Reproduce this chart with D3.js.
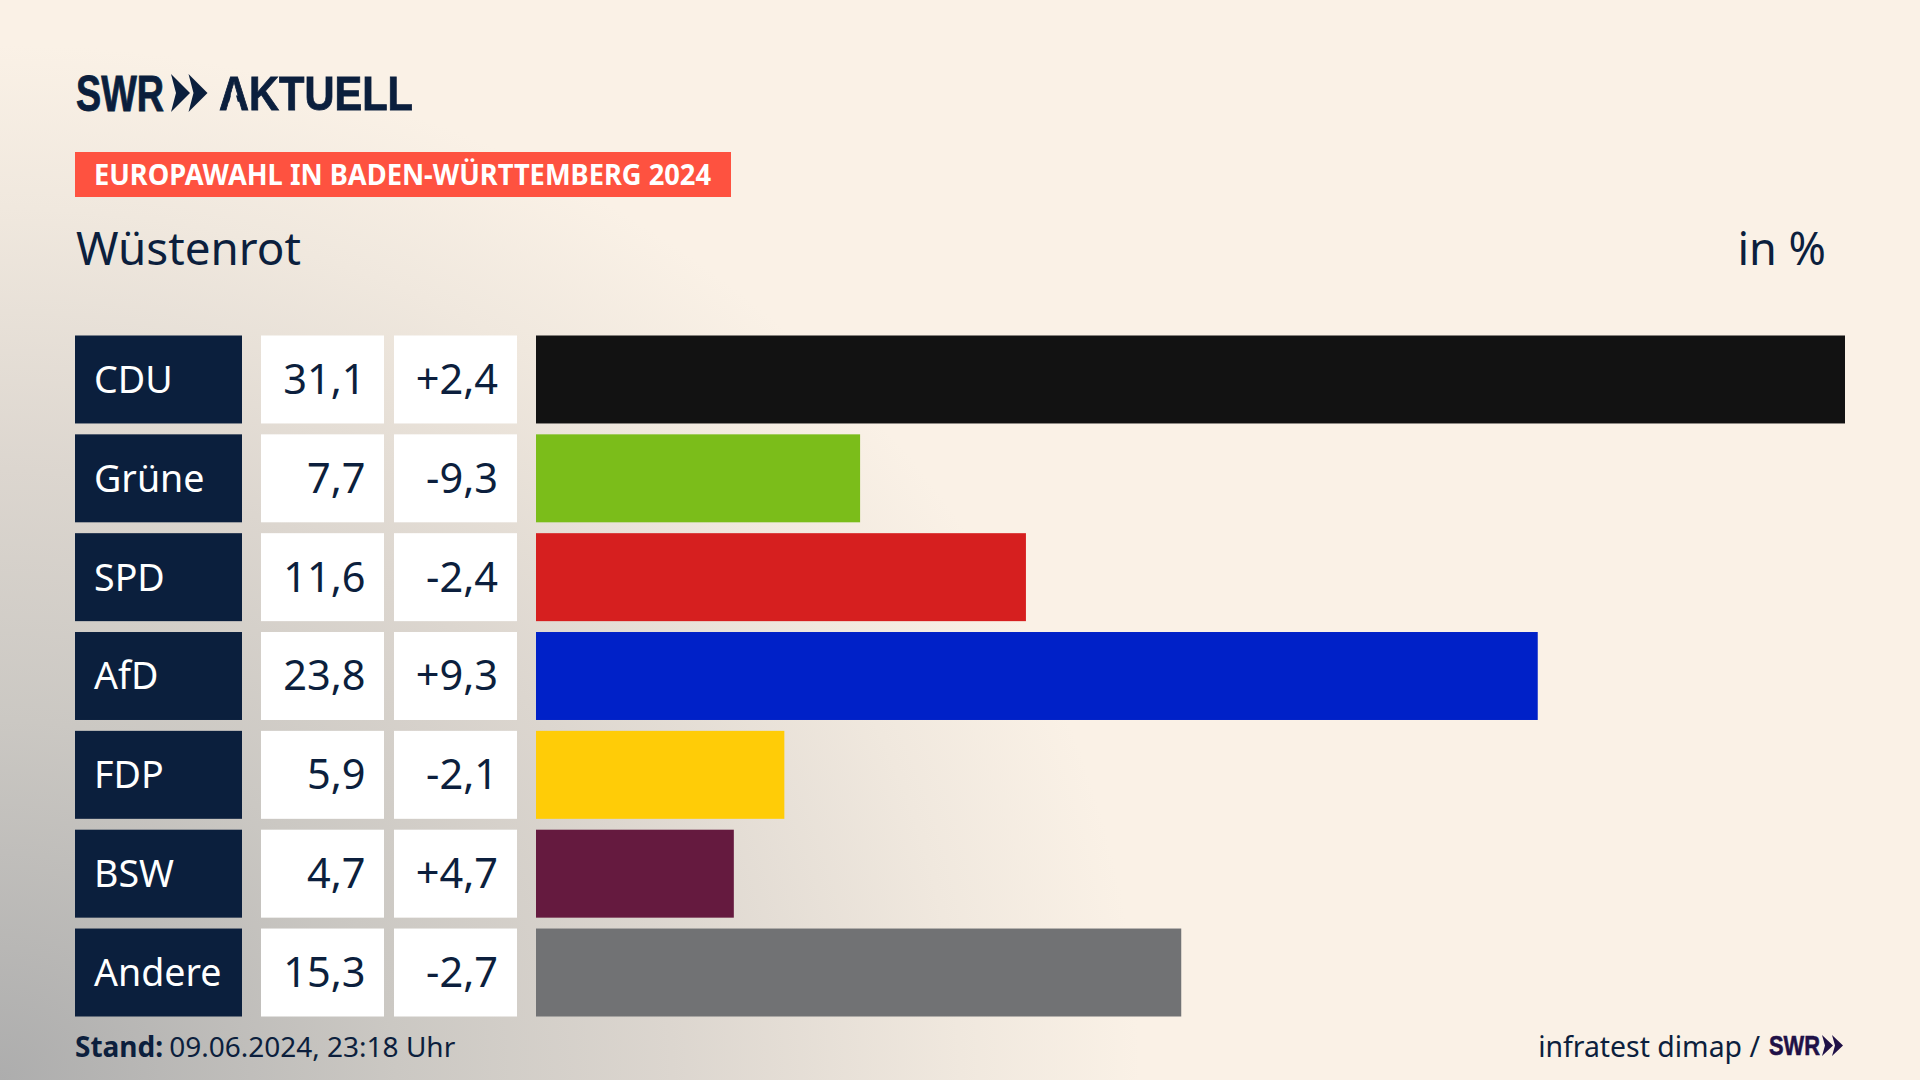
<!DOCTYPE html>
<html lang="de">
<head>
<meta charset="utf-8">
<title>Europawahl Wüstenrot</title>
<script src="https://cdn.jsdelivr.net/npm/d3@7.9.0/dist/d3.min.js"></script>
<style>
  html, body { margin: 0; padding: 0; background: #faf1e6; overflow: hidden; }
  svg { display: block; }
  text { font-family: "Noto Sans", sans-serif; fill: #0c1f3d; }
</style>
</head>
<body>
<div id="chart"></div>
<script>
const parties = ['CDU', 'Grüne', 'SPD', 'AfD', 'FDP', 'BSW', 'Andere'];
// bar lengths, labels round to one decimal
const shares = [31.1, 7.7, 11.64, 23.8, 5.9, 4.7, 15.33];
const changes = [2.4, -9.3, -2.4, 9.3, -2.1, 4.7, -2.7];
const barColors = ['#121212', '#7bbd1a', '#d61f1f', '#0021c8', '#ffcc07', '#651a3f', '#717274'];

const width = 1920, height = 1080;
const navy = '#0b1f3d';
const deComma = d3.formatLocale({ decimal: ',', thousands: '.', grouping: [3], currency: ['', '€'] });
const fmtShare = deComma.format('.1f');
const fmtChange = v => (v > 0 ? '+' : '') + deComma.format('.1f')(v).replace('−', '-');

const svg = d3.select('#chart').append('svg')
  .attr('width', width).attr('height', height)
  .attr('viewBox', `0 0 ${width} ${height}`);

/* ---------- background ---------- */
const defs = svg.append('defs');
const bg = defs.append('radialGradient').attr('id', 'bg')
  .attr('gradientUnits', 'userSpaceOnUse')
  .attr('cx', 0).attr('cy', 0).attr('r', 1)
  .attr('gradientTransform', `translate(0,${height}) scale(1200,1090)`);
[[0, '#adadad'], [0.33, '#cbc8c3'], [0.56, '#dcd6cf'], [0.8, '#f0e8de'], [0.95, '#faf1e6']]
  .forEach(([o, c]) => bg.append('stop').attr('offset', o).attr('stop-color', c));
svg.append('rect').attr('width', width).attr('height', height).attr('fill', '#faf1e6');
svg.append('rect').attr('width', width).attr('height', height).attr('fill', 'url(#bg)');

/* ---------- logo ---------- */
function chevrons(g, x, y, h, w, notch, step, color) {
  for (const dx of [0, step]) {
    const p = d3.path();
    p.moveTo(x + dx, y);
    p.lineTo(x + dx + w, y + h / 2);
    p.lineTo(x + dx, y + h);
    p.lineTo(x + dx + notch, y + h / 2);
    p.closePath();
    g.append('path').attr('d', p.toString()).attr('fill', color);
  }
}

const logoFont = '"Liberation Sans Narrow", "Liberation Sans", sans-serif';
const logo = svg.append('g');
logo.append('text').attr('x', 76).attr('y', 110.5)
  .attr('textLength', 88).attr('lengthAdjust', 'spacingAndGlyphs')
  .attr('stroke', navy).attr('stroke-width', 0.9)
  .style('font-family', logoFont).style('font-weight', 700).style('font-size', '50px')
  .style('fill', navy).text('SWR');
chevrons(logo, 171, 74, 38, 19, 5, 17.5, navy);

// the A of the wordmark has no crossbar
const mask = defs.append('mask').attr('id', 'noBar').attr('maskUnits', 'userSpaceOnUse')
  .attr('x', 0).attr('y', 0).attr('width', width).attr('height', height);
mask.append('rect').attr('width', width).attr('height', height).attr('fill', '#fff');
mask.append('path').attr('d', 'M233.5,86 L240.5,112 L226.5,112 Z').attr('fill', '#000');
logo.append('text').attr('x', 219).attr('y', 110)
  .attr('textLength', 194).attr('lengthAdjust', 'spacingAndGlyphs')
  .attr('stroke', navy).attr('stroke-width', 0.9)
  .attr('mask', 'url(#noBar)')
  .style('font-family', logoFont).style('font-weight', 700).style('font-size', '49px')
  .style('fill', navy).text('AKTUELL');

/* ---------- header ---------- */
svg.append('rect').attr('x', 75).attr('y', 152).attr('width', 656).attr('height', 45).attr('fill', '#fe5240');
svg.append('text').attr('x', 94).attr('y', 185)
  .attr('textLength', 617).attr('lengthAdjust', 'spacingAndGlyphs')
  .style('font-weight', 700).style('font-size', '28px').style('fill', '#fff')
  .text('EUROPAWAHL IN BADEN-WÜRTTEMBERG 2024');
svg.append('text').attr('x', 76).attr('y', 264.5)
  .attr('textLength', 225).attr('lengthAdjust', 'spacingAndGlyphs')
  .style('font-size', '45px').text('Wüstenrot');
svg.append('text').attr('x', 1826).attr('y', 264.5).attr('text-anchor', 'end').style('font-size', '45px').text('in %');

/* ---------- rows ---------- */
const y = d3.scaleBand().domain(parties).range([335.5, 1016.5]).paddingInner(0.11);
const x = d3.scaleLinear().domain([0, d3.max(shares)]).range([536, 1845]);

const rows = svg.append('g').selectAll('g')
  .data(parties.map((party, i) => ({ party, share: shares[i], change: changes[i], color: barColors[i] })))
  .join('g')
  .attr('transform', d => `translate(0,${y(d.party)})`);

const h = y.bandwidth();
rows.append('rect').attr('x', 75).attr('width', 167).attr('height', h).attr('fill', navy);
rows.append('rect').attr('x', 261).attr('width', 123).attr('height', h).attr('fill', '#fff');
rows.append('rect').attr('x', 394).attr('width', 123).attr('height', h).attr('fill', '#fff');
rows.append('rect').attr('x', x(0)).attr('width', d => x(d.share) - x(0)).attr('height', h).attr('fill', d => d.color);

rows.append('text').attr('x', 94).attr('y', h / 2 + 13.5).style('font-size', '37.6px').style('fill', '#fff').text(d => d.party);
const value = sel => sel.attr('text-anchor', 'end').attr('y', h / 2 + 14.5).style('font-size', '41.5px');
rows.append('text').attr('x', 365.5).call(value).text(d => fmtShare(d.share));
rows.append('text').attr('x', 498).call(value).text(d => fmtChange(d.change));

/* ---------- footer ---------- */
const stand = svg.append('text').attr('x', 75).attr('y', 1056.5).style('font-size', '28px');
stand.append('tspan').style('font-weight', 700).text('Stand:');
stand.append('tspan').attr('dx', 6).text('09.06.2024, 23:18 Uhr');
svg.append('text').attr('x', 1760).attr('y', 1056.5).attr('text-anchor', 'end').style('font-size', '28.4px').text('infratest dimap /');
svg.append('text').attr('x', 1769).attr('y', 1055)
  .attr('textLength', 51).attr('lengthAdjust', 'spacingAndGlyphs')
  .attr('stroke', '#1f1147').attr('stroke-width', 0.6)
  .style('font-family', logoFont).style('font-weight', 700).style('font-size', '28px')
  .style('fill', '#1f1147').text('SWR');
chevrons(svg.append('g'), 1822, 1035, 21, 11, 3, 10, '#1f1147');
</script>
</body>
</html>
